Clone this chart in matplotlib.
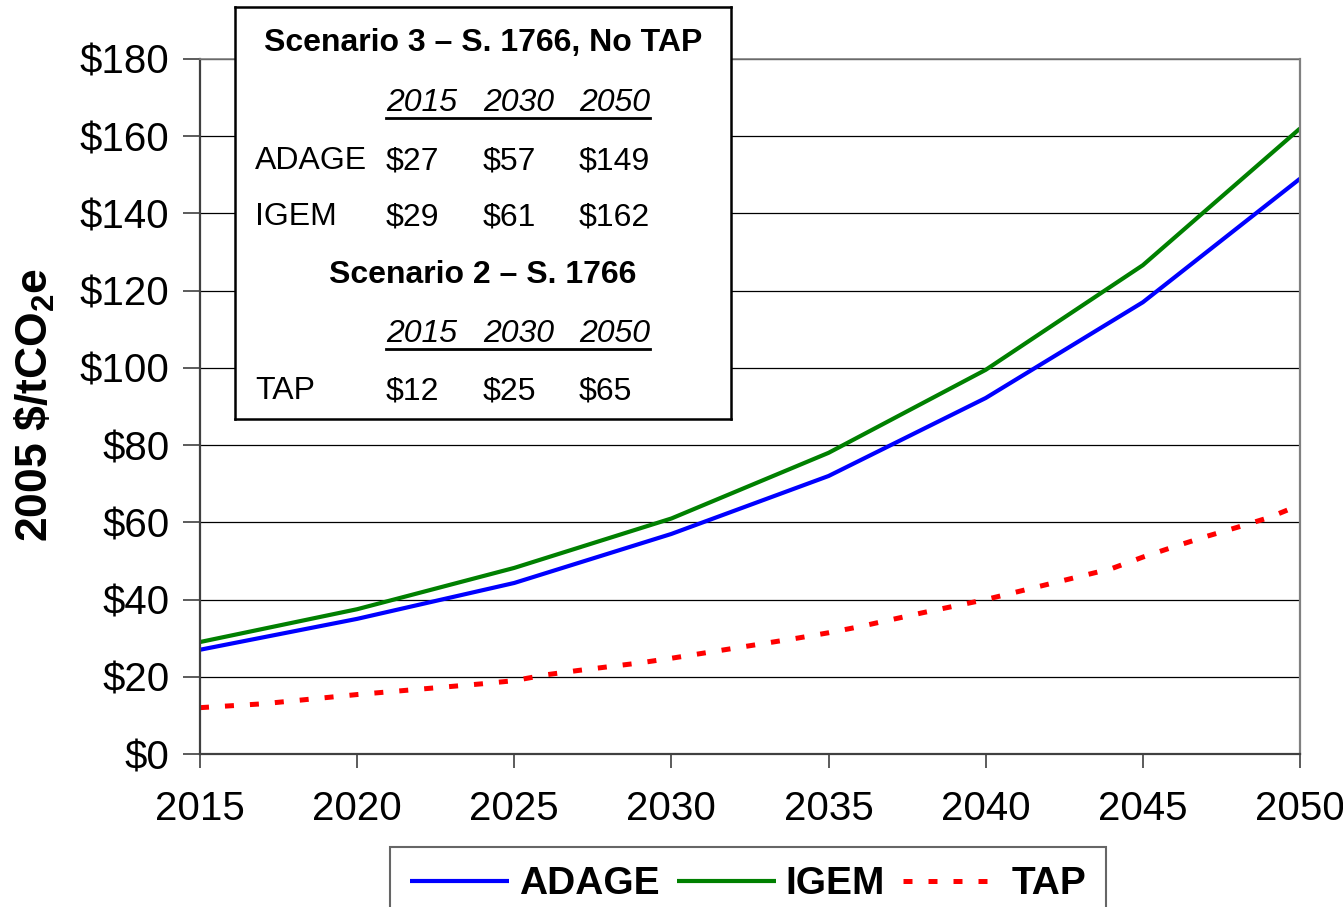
import matplotlib.pyplot as plt
from matplotlib.lines import Line2D

plt.rcParams['font.family'] = ['Liberation Sans', 'DejaVu Sans']
plt.rcParams['mathtext.fontset'] = 'custom'
plt.rcParams['mathtext.rm'] = 'Liberation Sans'
plt.rcParams['mathtext.bf'] = 'Liberation Sans:bold'

W, H = 1343, 907

years = [2015, 2020, 2025, 2030, 2035, 2040, 2045, 2050]
adage = [27, 35, 44.3, 57, 72, 92.2, 117, 149]
igem = [29, 37.5, 48.2, 61, 78, 99.5, 126.6, 162]

tap_years = list(range(2015, 2051))
tap = [12.0, 12.5, 13.0, 13.8, 14.6, 15.4, 16.1, 16.8, 17.5, 18.2,
       19.0, 20.5, 21.6, 22.6, 23.6, 24.8, 26.1, 27.4, 28.7, 30.0,
       31.4, 33.0, 34.8, 36.6, 38.3, 40.0, 42.0, 44.0, 46.0, 48.0,
       51.0, 53.7, 56.3, 58.7, 61.2, 64.5]

yticks = list(range(0, 181, 20))
ytick_labels = [f"${v}" for v in yticks]

table_cols = ["2015", "2030", "2050"]
table3_rows = [("ADAGE", ["$27", "$57", "$149"]),
               ("IGEM", ["$29", "$61", "$162"])]
table2_rows = [("TAP", ["$12", "$25", "$65"])]


def fx(x):
    return x / W


def fy(y):
    return 1 - y / H


fig = plt.figure(figsize=(W / 100, H / 100), dpi=100)
ax = fig.add_axes([fx(200), fy(754), fx(1300) - fx(200), fy(59) - fy(754)])

ax.plot(years, adage, color='#0000ff', lw=3, label='ADAGE', solid_capstyle='butt')
ax.plot(years, igem, color='#008000', lw=3, label='IGEM', solid_capstyle='butt')
ax.plot(tap_years, tap, color='#ff0000', lw=3.6, dashes=(1.8, 3.2), label='TAP')

ax.set_xlim(2015, 2050)
ax.set_ylim(0, 180)
ax.set_xticks(years)
ax.set_yticks(yticks)
ax.set_yticklabels(ytick_labels)
ax.tick_params(axis='x', labelsize=29, length=10, width=1.2, color='#404040', pad=16)
ax.tick_params(axis='y', labelsize=29, length=12, width=1.2, color='#404040', pad=10)
ax.grid(axis='y', color='black', lw=0.9)
ax.set_axisbelow(True)
for side in ['left', 'bottom']:
    ax.spines[side].set_color('#404040')
    ax.spines[side].set_linewidth(1.6)
ax.spines['right'].set_color('#808080')
ax.spines['right'].set_linewidth(1.6)
ax.spines['top'].set_color('#808080')
ax.spines['top'].set_linewidth(1.2)

fig.text(fx(35), fy(405), r"2005 \$/tCO$_\mathbf{2}$e", rotation=90,
         fontsize=32, fontweight='bold', ha='center', va='center')

# inset table box
box = fig.add_axes([fx(235), fy(419), fx(731) - fx(235), fy(7) - fy(419)])
box.set_xticks([])
box.set_yticks([])
box.set_facecolor('white')
for s in box.spines.values():
    s.set_color('black')
    s.set_linewidth(1.8)

col_x = [386, 483, 579]
fs = 23


def header_row(y):
    for cx, c in zip(col_x, table_cols):
        fig.text(fx(cx), fy(y), c, fontsize=fs, style='italic', ha='left', va='center', zorder=5)
    fig.add_artist(Line2D([fx(386), fx(650)], [fy(y + 15), fy(y + 15)],
                          transform=fig.transFigure, color='black', lw=2, zorder=5))


def value_row(y, name, vals):
    fig.text(fx(255), fy(y), name, fontsize=fs, ha='left', va='center', zorder=5)
    for cx, v in zip(col_x, vals):
        fig.text(fx(cx), fy(y), v, fontsize=fs, ha='left', va='center', zorder=5)


fig.text(fx(483), fy(43), "Scenario 3 \u2013 S. 1766, No TAP", fontsize=fs,
         fontweight='bold', ha='center', va='center', zorder=5)
header_row(103)
for (name, vals), y in zip(table3_rows, [161, 217]):
    value_row(y, name, vals)
fig.text(fx(483), fy(275), "Scenario 2 \u2013 S. 1766", fontsize=fs,
         fontweight='bold', ha='center', va='center', zorder=5)
header_row(334)
for (name, vals), y in zip(table2_rows, [391]):
    value_row(y, name, vals)

leg = fig.legend(loc='upper center', bbox_to_anchor=(fx(748), fy(847)), ncol=3,
                 prop={'size': 28, 'weight': 'bold'}, frameon=True, fancybox=False,
                 edgecolor='#404040', handlelength=2.55, handletextpad=0.25,
                 columnspacing=0.45, borderpad=0.5, borderaxespad=0)
leg.get_frame().set_linewidth(1.5)

fig.savefig("out.png", dpi=100)
